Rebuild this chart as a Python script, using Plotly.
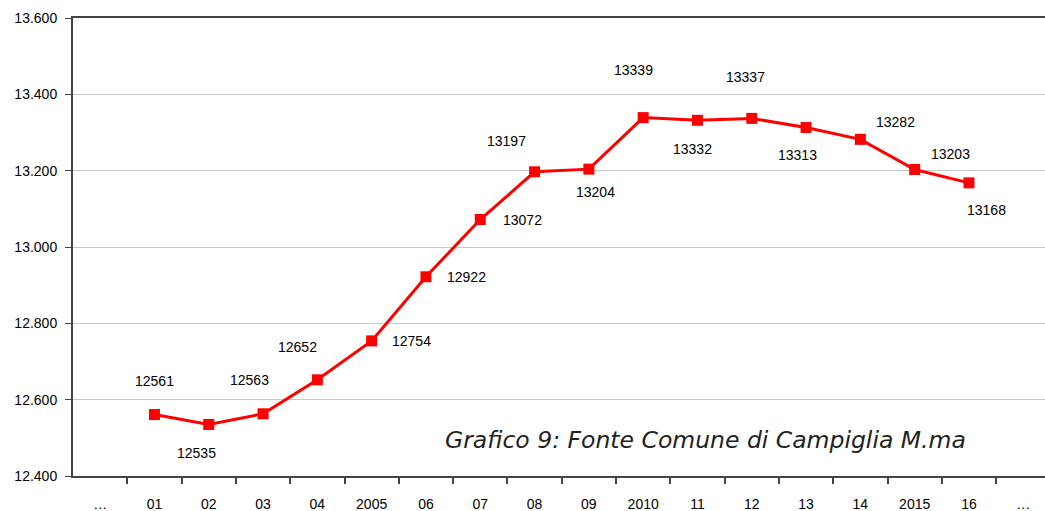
import plotly.graph_objects as go

categories = ['…', '01', '02', '03', '04', '2005', '06', '07', '08', '09',
              '2010', '11', '12', '13', '14', '2015', '16', '…']
# positional keys so the two "…" categories stay distinct
cat_keys = list(range(len(categories)))

year_idx = cat_keys[1:17]
population = [12561, 12535, 12563, 12652, 12754, 12922, 13072, 13197,
              13204, 13339, 13332, 13337, 13313, 13282, 13203, 13168]

y_ticks = [12400, 12600, 12800, 13000, 13200, 13400, 13600]

# label offsets in pixels (dx, dy), purely cosmetic
label_offsets = [(0, 34), (-12, -29), (-14, 34), (-20, 33), (40, 0), (41, 0),
                 (42, 0), (-28, 31), (7, -23), (-10, 48), (-5, -29), (-6, 41),
                 (-9, -27), (35, 17), (36, 16), (18, -27)]

fig = go.Figure()
fig.add_trace(go.Scatter(
    x=year_idx,
    y=population,
    mode='lines+markers',
    line=dict(color='#ff0000', width=3),
    marker=dict(symbol='square', size=11, color='#ff0000'),
    showlegend=False,
))

annotations = []
for x, v, (dx, dy) in zip(year_idx, population, label_offsets):
    annotations.append(dict(
        x=x, y=v, xref='x', yref='y', text=str(v), showarrow=False,
        xshift=dx, yshift=dy,
        font=dict(family='Liberation Sans, Arial', size=14, color='black'),
    ))
annotations.append(dict(
    x=0.921, y=0.079, xref='paper', yref='paper', xanchor='right', yanchor='middle',
    text='<i>Grafico 9: Fonte Comune di Campiglia M.ma</i>', showarrow=False,
    font=dict(family='DejaVu Sans, Verdana', size=23.5, color='#222222'),
))

fig.update_xaxes(
    type='linear',
    range=[-0.5, 17.4],
    tickmode='array',
    tickvals=cat_keys,
    ticktext=categories,
    showgrid=False,
    showline=True,
    linecolor='#444444',
    linewidth=2,
    mirror=True,
    ticks='',
    ticklabelstandoff=14,
    minor=dict(
        tickmode='array',
        tickvals=[k + 0.5 for k in cat_keys[:-1]],
        ticks='outside',
        ticklen=6,
        tickcolor='#444444',
        tickwidth=1.5,
        showgrid=False,
    ),
    tickfont=dict(family='Liberation Sans, Arial', size=14, color='black'),
    zeroline=False,
    automargin=False,
)
fig.update_yaxes(
    range=[12400, 13600],
    tickmode='array',
    tickvals=y_ticks,
    tickformat=',d',
    showgrid=True,
    gridcolor='#c8c8c8',
    gridwidth=1,
    showline=True,
    linecolor='#444444',
    linewidth=2,
    ticks='outside',
    ticklen=6,
    tickcolor='#444444',
    ticklabelstandoff=5,
    tickfont=dict(family='Liberation Sans, Arial', size=14, color='black'),
    zeroline=False,
    automargin=False,
)
fig.update_layout(
    width=1045,
    height=511,
    margin=dict(l=73, r=0, t=18, b=35),
    separators=',.',
    plot_bgcolor='white',
    paper_bgcolor='white',
    annotations=annotations,
)

# drop the default 8px body margin so the figure sits at the window origin
fig.write_html('out.html', config={'displayModeBar': False},
               post_script="document.body.style.margin='0';")
